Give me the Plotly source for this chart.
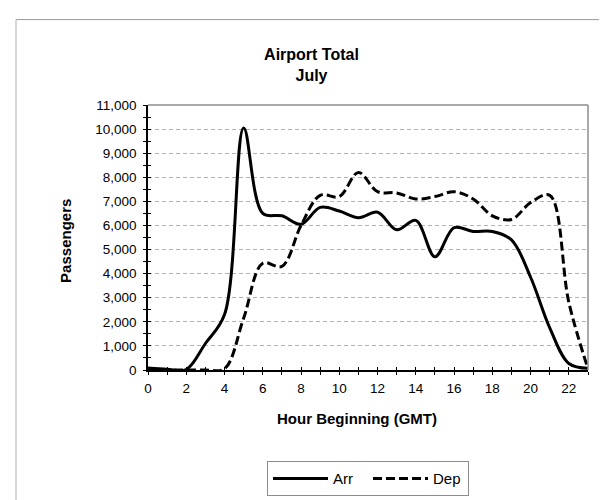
import plotly.graph_objects as go

hours = list(range(24))
arr = [80, 30, 20, 1100, 2300, 10050, 6500, 6400, 6050, 6750, 6600, 6320,
       6550, 5820, 6210, 4700, 5910, 5750, 5750, 5400, 3850, 1750, 270, 70]
dep = [50, 0, 0, 0, 50, 2150, 4430, 4300, 6000, 7250, 7200, 8200,
       7400, 7350, 7100, 7200, 7400, 7100, 6400, 6250, 6950, 7250, 2800, 50]
x_ticks = list(range(0, 23, 2))
y_ticks = list(range(0, 11001, 1000))

FONT = "Liberation Sans, Arial, sans-serif"

# plot-area geometry in pixels (used to convert to paper coordinates)
L, R, T, B = 140, 580, 97, 370
PW, PH = R - L, B - T
def px(xp):
    return (xp - L) / PW
def py(yp):
    return (B - yp) / PH

fig = go.Figure()
fig.add_trace(go.Scatter(x=hours, y=arr, name="Arr", mode="lines",
                         line=dict(color="black", width=3, shape="spline", smoothing=1.0)))
fig.add_trace(go.Scatter(x=hours, y=dep, name="Dep", mode="lines",
                         line=dict(color="black", width=3, dash="9px,4px", shape="spline", smoothing=1.0)))
# invisible trace hosting the overlay axes used for cross tick marks
fig.add_trace(go.Scatter(x=hours, y=arr, xaxis="x2", yaxis="y2", mode="lines",
                         line=dict(color="rgba(0,0,0,0)"), showlegend=False, hoverinfo="skip"))

axis_common = dict(showline=True, linecolor="black", linewidth=1.5, zeroline=False,
                   ticklen=3, tickwidth=1, tickcolor="black")

fig.update_layout(
    width=607, height=500,
    margin=dict(l=L, r=607 - R, t=T, b=500 - B),
    paper_bgcolor="white", plot_bgcolor="white",
    font=dict(family=FONT, size=13.5, color="black"),
    title=dict(text="<b>Airport Total<br>July</b>", x=0.5, xref="container", xanchor="center",
               y=1 - 52 / 500, yref="container", yanchor="middle",
               font=dict(family=FONT, size=16, color="black")),
    xaxis=dict(range=[0, 23], tickvals=x_ticks, ticks="outside", ticklabelstandoff=2,
               minor=dict(dtick=1, ticks="outside", ticklen=3, tickcolor="black"),
               showgrid=False, **axis_common),
    yaxis=dict(range=[0, 11000], tickvals=y_ticks, tickformat=",d", ticks="outside",
               ticklabelstandoff=4,
               minor=dict(dtick=500, ticks="outside", ticklen=3, tickcolor="black"),
               showgrid=True, gridcolor="#b3b3b3", gridwidth=1, griddash="4px,3px",
               **axis_common),
    xaxis2=dict(range=[0, 23], overlaying="x", anchor="y2", side="bottom",
                tickvals=x_ticks, ticks="inside", showticklabels=False, showgrid=False,
                zeroline=False, showline=False, ticklen=3, tickcolor="black",
                minor=dict(dtick=1, ticks="inside", ticklen=3, tickcolor="black")),
    yaxis2=dict(range=[0, 11000], overlaying="y", anchor="x2", side="left",
                tickvals=y_ticks, ticks="inside", showticklabels=False, showgrid=False,
                zeroline=False, showline=False, ticklen=3, tickcolor="black",
                minor=dict(dtick=500, ticks="inside", ticklen=3, tickcolor="black")),
    legend=dict(orientation="h", x=0.5, xanchor="center", y=py(464), yanchor="top",
                bordercolor="#8c8c8c", borderwidth=1, bgcolor="white",
                font=dict(family=FONT, size=15), itemwidth=55, entrywidth=30),
    showlegend=True,
)

# axis titles
fig.add_annotation(text="<b>Hour Beginning (GMT)</b>", xref="paper", yref="paper",
                   x=px(349), y=py(420), xanchor="center", yanchor="middle", showarrow=False,
                   font=dict(family=FONT, size=15, color="black"))
fig.add_annotation(text="<b>Passengers</b>", xref="paper", yref="paper", textangle=-90,
                   x=px(58), y=py(237), xanchor="center", yanchor="middle", showarrow=False,
                   font=dict(family=FONT, size=15, color="black"))

# plot area top and right borders (gray)
fig.add_shape(type="line", xref="paper", yref="paper", x0=0, x1=1, y0=1, y1=1,
              line=dict(color="#8c8c8c", width=1.5))
fig.add_shape(type="line", xref="paper", yref="paper", x0=1, x1=1, y0=0, y1=1,
              line=dict(color="#8c8c8c", width=1.5))
# outer chart-area frame (top and left edges visible)
fig.add_shape(type="line", xref="paper", yref="paper", x0=px(8), x1=px(620),
              y0=py(9), y1=py(9), line=dict(color="#9a9a9a", width=1))
fig.add_shape(type="line", xref="paper", yref="paper", x0=px(8), x1=px(8),
              y0=py(9), y1=py(520), line=dict(color="#c8c8c8", width=1.5))

fig.write_html("out.html")
